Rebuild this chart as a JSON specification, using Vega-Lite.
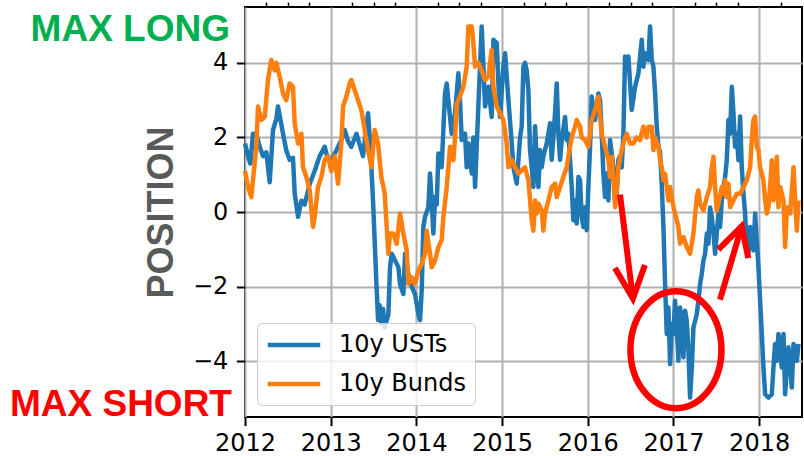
{
"$schema": "https://vega.github.io/schema/vega-lite/v6.json",
"width": 557,
"height": 410,
"autosize": {"type": "none"},
"padding": {"left": 245, "top": 7, "right": 2, "bottom": 39},
"background": "white",
"config": {
  "font": "DejaVu Sans",
  "view": {"stroke": "#000", "strokeWidth": 2},
  "axis": {"labelFont": "DejaVu Sans", "labelFontSize": 24, "labelColor": "#000", "tickColor": "#000", "tickWidth": 2, "domain": false, "gridColor": "#b0b0b0", "gridWidth": 2, "gridOpacity": 1}
},
"layer": [
{
  "data": {"values": [
{"s":"10y USTs","t":2012.000,"v":1.84},{"s":"10y USTs","t":2012.035,"v":1.5},{"s":"10y USTs","t":2012.062,"v":1.3},{"s":"10y USTs","t":2012.093,"v":2.1},{"s":"10y USTs","t":2012.132,"v":2.1},{"s":"10y USTs","t":2012.171,"v":1.75},{"s":"10y USTs","t":2012.210,"v":1.5},{"s":"10y USTs","t":2012.249,"v":1.6},{"s":"10y USTs","t":2012.288,"v":0.8},{"s":"10y USTs","t":2012.327,"v":2.2},{"s":"10y USTs","t":2012.366,"v":2.5},{"s":"10y USTs","t":2012.385,"v":2.83},{"s":"10y USTs","t":2012.412,"v":2.5},{"s":"10y USTs","t":2012.444,"v":2.1},{"s":"10y USTs","t":2012.482,"v":1.65},{"s":"10y USTs","t":2012.521,"v":1.4},{"s":"10y USTs","t":2012.560,"v":1.45},{"s":"10y USTs","t":2012.580,"v":0.5},{"s":"10y USTs","t":2012.619,"v":-0.13},{"s":"10y USTs","t":2012.658,"v":0.3},{"s":"10y USTs","t":2012.696,"v":0.2},{"s":"10y USTs","t":2012.755,"v":0.75},{"s":"10y USTs","t":2012.813,"v":1.1},{"s":"10y USTs","t":2012.872,"v":1.5},{"s":"10y USTs","t":2012.930,"v":1.75},{"s":"10y USTs","t":2012.969,"v":1.4},{"s":"10y USTs","t":2013.008,"v":1.4},{"s":"10y USTs","t":2013.066,"v":1.65},{"s":"10y USTs","t":2013.124,"v":1.93},{"s":"10y USTs","t":2013.163,"v":2.2},{"s":"10y USTs","t":2013.202,"v":1.9},{"s":"10y USTs","t":2013.241,"v":1.75},{"s":"10y USTs","t":2013.300,"v":2.1},{"s":"10y USTs","t":2013.339,"v":1.8},{"s":"10y USTs","t":2013.377,"v":1.5},{"s":"10y USTs","t":2013.436,"v":2.65},{"s":"10y USTs","t":2013.455,"v":2.0},{"s":"10y USTs","t":2013.475,"v":1.2},{"s":"10y USTs","t":2013.494,"v":0.3},{"s":"10y USTs","t":2013.514,"v":-0.8},{"s":"10y USTs","t":2013.533,"v":-1.9},{"s":"10y USTs","t":2013.553,"v":-2.9},{"s":"10y USTs","t":2013.572,"v":-2.5},{"s":"10y USTs","t":2013.591,"v":-3.0},{"s":"10y USTs","t":2013.611,"v":-2.6},{"s":"10y USTs","t":2013.630,"v":-3.1},{"s":"10y USTs","t":2013.654,"v":-2.9},{"s":"10y USTs","t":2013.673,"v":-2.74},{"s":"10y USTs","t":2013.692,"v":-1.5},{"s":"10y USTs","t":2013.712,"v":-1.12},{"s":"10y USTs","t":2013.751,"v":-1.3},{"s":"10y USTs","t":2013.790,"v":-1.48},{"s":"10y USTs","t":2013.809,"v":-1.93},{"s":"10y USTs","t":2013.848,"v":-2.2},{"s":"10y USTs","t":2013.868,"v":-1.12},{"s":"10y USTs","t":2013.906,"v":-1.66},{"s":"10y USTs","t":2013.945,"v":-2.0},{"s":"10y USTs","t":2013.984,"v":-2.2},{"s":"10y USTs","t":2014.023,"v":-2.74},{"s":"10y USTs","t":2014.043,"v":-2.9},{"s":"10y USTs","t":2014.062,"v":-2.1},{"s":"10y USTs","t":2014.081,"v":-0.4},{"s":"10y USTs","t":2014.101,"v":-0.13},{"s":"10y USTs","t":2014.140,"v":0.13},{"s":"10y USTs","t":2014.159,"v":1.03},{"s":"10y USTs","t":2014.179,"v":0.3},{"s":"10y USTs","t":2014.198,"v":-0.58},{"s":"10y USTs","t":2014.218,"v":0.4},{"s":"10y USTs","t":2014.237,"v":0.2},{"s":"10y USTs","t":2014.257,"v":1.57},{"s":"10y USTs","t":2014.295,"v":1.2},{"s":"10y USTs","t":2014.334,"v":3.18},{"s":"10y USTs","t":2014.354,"v":3.45},{"s":"10y USTs","t":2014.373,"v":3.0},{"s":"10y USTs","t":2014.393,"v":2.55},{"s":"10y USTs","t":2014.412,"v":2.1},{"s":"10y USTs","t":2014.451,"v":2.65},{"s":"10y USTs","t":2014.490,"v":3.72},{"s":"10y USTs","t":2014.509,"v":3.0},{"s":"10y USTs","t":2014.529,"v":1.93},{"s":"10y USTs","t":2014.568,"v":2.1},{"s":"10y USTs","t":2014.587,"v":1.2},{"s":"10y USTs","t":2014.607,"v":1.84},{"s":"10y USTs","t":2014.646,"v":1.03},{"s":"10y USTs","t":2014.665,"v":2.0},{"s":"10y USTs","t":2014.685,"v":0.67},{"s":"10y USTs","t":2014.723,"v":2.83},{"s":"10y USTs","t":2014.762,"v":4.98},{"s":"10y USTs","t":2014.782,"v":3.9},{"s":"10y USTs","t":2014.801,"v":2.83},{"s":"10y USTs","t":2014.840,"v":3.36},{"s":"10y USTs","t":2014.879,"v":2.55},{"s":"10y USTs","t":2014.899,"v":4.62},{"s":"10y USTs","t":2014.938,"v":4.53},{"s":"10y USTs","t":2014.957,"v":3.45},{"s":"10y USTs","t":2014.976,"v":2.55},{"s":"10y USTs","t":2015.015,"v":3.9},{"s":"10y USTs","t":2015.035,"v":4.26},{"s":"10y USTs","t":2015.074,"v":3.0},{"s":"10y USTs","t":2015.113,"v":1.84},{"s":"10y USTs","t":2015.132,"v":1.2},{"s":"10y USTs","t":2015.171,"v":0.76},{"s":"10y USTs","t":2015.210,"v":2.0},{"s":"10y USTs","t":2015.229,"v":2.3},{"s":"10y USTs","t":2015.249,"v":3.9},{"s":"10y USTs","t":2015.268,"v":4.0},{"s":"10y USTs","t":2015.287,"v":3.8},{"s":"10y USTs","t":2015.307,"v":3.27},{"s":"10y USTs","t":2015.326,"v":1.66},{"s":"10y USTs","t":2015.346,"v":1.2},{"s":"10y USTs","t":2015.365,"v":0.67},{"s":"10y USTs","t":2015.385,"v":2.3},{"s":"10y USTs","t":2015.404,"v":1.4},{"s":"10y USTs","t":2015.424,"v":0.67},{"s":"10y USTs","t":2015.443,"v":1.66},{"s":"10y USTs","t":2015.463,"v":1.2},{"s":"10y USTs","t":2015.482,"v":1.5},{"s":"10y USTs","t":2015.521,"v":1.84},{"s":"10y USTs","t":2015.560,"v":2.38},{"s":"10y USTs","t":2015.579,"v":1.4},{"s":"10y USTs","t":2015.618,"v":2.65},{"s":"10y USTs","t":2015.638,"v":3.45},{"s":"10y USTs","t":2015.657,"v":2.1},{"s":"10y USTs","t":2015.677,"v":1.4},{"s":"10y USTs","t":2015.696,"v":1.93},{"s":"10y USTs","t":2015.735,"v":2.55},{"s":"10y USTs","t":2015.754,"v":1.93},{"s":"10y USTs","t":2015.774,"v":2.1},{"s":"10y USTs","t":2015.813,"v":0.67},{"s":"10y USTs","t":2015.832,"v":-0.22},{"s":"10y USTs","t":2015.852,"v":0.31},{"s":"10y USTs","t":2015.871,"v":-0.31},{"s":"10y USTs","t":2015.891,"v":0.94},{"s":"10y USTs","t":2015.910,"v":0.85},{"s":"10y USTs","t":2015.929,"v":-0.13},{"s":"10y USTs","t":2015.949,"v":-0.4},{"s":"10y USTs","t":2015.968,"v":0.13},{"s":"10y USTs","t":2015.988,"v":-0.49},{"s":"10y USTs","t":2016.007,"v":0.67},{"s":"10y USTs","t":2016.027,"v":1.75},{"s":"10y USTs","t":2016.046,"v":3.1},{"s":"10y USTs","t":2016.066,"v":2.74},{"s":"10y USTs","t":2016.085,"v":2.47},{"s":"10y USTs","t":2016.124,"v":3.18},{"s":"10y USTs","t":2016.143,"v":3.0},{"s":"10y USTs","t":2016.163,"v":2.1},{"s":"10y USTs","t":2016.182,"v":1.03},{"s":"10y USTs","t":2016.202,"v":0.4},{"s":"10y USTs","t":2016.221,"v":1.03},{"s":"10y USTs","t":2016.241,"v":0.31},{"s":"10y USTs","t":2016.260,"v":1.93},{"s":"10y USTs","t":2016.280,"v":1.57},{"s":"10y USTs","t":2016.299,"v":1.2},{"s":"10y USTs","t":2016.319,"v":0.31},{"s":"10y USTs","t":2016.338,"v":0.49},{"s":"10y USTs","t":2016.357,"v":1.4},{"s":"10y USTs","t":2016.377,"v":1.5},{"s":"10y USTs","t":2016.396,"v":1.2},{"s":"10y USTs","t":2016.416,"v":2.1},{"s":"10y USTs","t":2016.435,"v":4.17},{"s":"10y USTs","t":2016.455,"v":3.9},{"s":"10y USTs","t":2016.474,"v":4.17},{"s":"10y USTs","t":2016.494,"v":3.45},{"s":"10y USTs","t":2016.513,"v":2.74},{"s":"10y USTs","t":2016.552,"v":3.36},{"s":"10y USTs","t":2016.591,"v":3.72},{"s":"10y USTs","t":2016.630,"v":4.62},{"s":"10y USTs","t":2016.649,"v":3.9},{"s":"10y USTs","t":2016.669,"v":4.26},{"s":"10y USTs","t":2016.708,"v":4.08},{"s":"10y USTs","t":2016.727,"v":4.98},{"s":"10y USTs","t":2016.747,"v":4.08},{"s":"10y USTs","t":2016.766,"v":3.9},{"s":"10y USTs","t":2016.786,"v":3.18},{"s":"10y USTs","t":2016.805,"v":2.3},{"s":"10y USTs","t":2016.825,"v":1.75},{"s":"10y USTs","t":2016.844,"v":1.6},{"s":"10y USTs","t":2016.863,"v":0.76},{"s":"10y USTs","t":2016.883,"v":-0.4},{"s":"10y USTs","t":2016.902,"v":-1.93},{"s":"10y USTs","t":2016.922,"v":-3.27},{"s":"10y USTs","t":2016.941,"v":-2.56},{"s":"10y USTs","t":2016.961,"v":-4.08},{"s":"10y USTs","t":2016.980,"v":-3.0},{"s":"10y USTs","t":2017.000,"v":-3.27},{"s":"10y USTs","t":2017.019,"v":-2.38},{"s":"10y USTs","t":2017.039,"v":-3.1},{"s":"10y USTs","t":2017.058,"v":-3.99},{"s":"10y USTs","t":2017.077,"v":-2.56},{"s":"10y USTs","t":2017.097,"v":-2.92},{"s":"10y USTs","t":2017.116,"v":-3.9},{"s":"10y USTs","t":2017.136,"v":-2.65},{"s":"10y USTs","t":2017.155,"v":-2.92},{"s":"10y USTs","t":2017.175,"v":-3.72},{"s":"10y USTs","t":2017.194,"v":-4.98},{"s":"10y USTs","t":2017.214,"v":-4.17},{"s":"10y USTs","t":2017.233,"v":-3.1},{"s":"10y USTs","t":2017.253,"v":-2.92},{"s":"10y USTs","t":2017.272,"v":-2.74},{"s":"10y USTs","t":2017.291,"v":-2.38},{"s":"10y USTs","t":2017.311,"v":-1.93},{"s":"10y USTs","t":2017.330,"v":-1.66},{"s":"10y USTs","t":2017.350,"v":-1.3},{"s":"10y USTs","t":2017.369,"v":-1.12},{"s":"10y USTs","t":2017.389,"v":-0.58},{"s":"10y USTs","t":2017.408,"v":-0.85},{"s":"10y USTs","t":2017.428,"v":0.12},{"s":"10y USTs","t":2017.447,"v":-0.13},{"s":"10y USTs","t":2017.467,"v":-0.58},{"s":"10y USTs","t":2017.486,"v":-1.12},{"s":"10y USTs","t":2017.505,"v":-0.58},{"s":"10y USTs","t":2017.525,"v":-0.04},{"s":"10y USTs","t":2017.544,"v":-0.4},{"s":"10y USTs","t":2017.564,"v":0.31},{"s":"10y USTs","t":2017.583,"v":0.67},{"s":"10y USTs","t":2017.603,"v":0.94},{"s":"10y USTs","t":2017.622,"v":1.39},{"s":"10y USTs","t":2017.642,"v":2.47},{"s":"10y USTs","t":2017.661,"v":2.1},{"s":"10y USTs","t":2017.681,"v":3.36},{"s":"10y USTs","t":2017.700,"v":2.65},{"s":"10y USTs","t":2017.719,"v":1.75},{"s":"10y USTs","t":2017.739,"v":2.1},{"s":"10y USTs","t":2017.758,"v":1.39},{"s":"10y USTs","t":2017.778,"v":2.56},{"s":"10y USTs","t":2017.797,"v":1.2},{"s":"10y USTs","t":2017.817,"v":0.49},{"s":"10y USTs","t":2017.836,"v":-0.04},{"s":"10y USTs","t":2017.856,"v":-0.94},{"s":"10y USTs","t":2017.875,"v":-1.12},{"s":"10y USTs","t":2017.895,"v":-0.4},{"s":"10y USTs","t":2017.914,"v":-0.76},{"s":"10y USTs","t":2017.933,"v":-1.03},{"s":"10y USTs","t":2017.953,"v":-0.04},{"s":"10y USTs","t":2017.972,"v":-0.76},{"s":"10y USTs","t":2017.992,"v":-1.48},{"s":"10y USTs","t":2018.011,"v":-2.38},{"s":"10y USTs","t":2018.031,"v":-3.27},{"s":"10y USTs","t":2018.050,"v":-4.17},{"s":"10y USTs","t":2018.070,"v":-4.89},{"s":"10y USTs","t":2018.109,"v":-4.98},{"s":"10y USTs","t":2018.148,"v":-4.89},{"s":"10y USTs","t":2018.167,"v":-4.17},{"s":"10y USTs","t":2018.186,"v":-3.54},{"s":"10y USTs","t":2018.206,"v":-3.99},{"s":"10y USTs","t":2018.225,"v":-3.27},{"s":"10y USTs","t":2018.245,"v":-3.72},{"s":"10y USTs","t":2018.264,"v":-4.17},{"s":"10y USTs","t":2018.284,"v":-3.27},{"s":"10y USTs","t":2018.303,"v":-4.89},{"s":"10y USTs","t":2018.323,"v":-4.17},{"s":"10y USTs","t":2018.342,"v":-3.63},{"s":"10y USTs","t":2018.362,"v":-4.17},{"s":"10y USTs","t":2018.381,"v":-4.71},{"s":"10y USTs","t":2018.401,"v":-3.54},{"s":"10y USTs","t":2018.440,"v":-3.99},{"s":"10y USTs","t":2018.459,"v":-3.54},
{"s":"10y Bunds","t":2012.000,"v":1.1},{"s":"10y Bunds","t":2012.035,"v":0.67},{"s":"10y Bunds","t":2012.074,"v":0.4},{"s":"10y Bunds","t":2012.093,"v":0.85},{"s":"10y Bunds","t":2012.132,"v":1.75},{"s":"10y Bunds","t":2012.152,"v":2.83},{"s":"10y Bunds","t":2012.191,"v":2.47},{"s":"10y Bunds","t":2012.230,"v":2.55},{"s":"10y Bunds","t":2012.268,"v":3.54},{"s":"10y Bunds","t":2012.307,"v":4.08},{"s":"10y Bunds","t":2012.346,"v":3.8},{"s":"10y Bunds","t":2012.366,"v":4.0},{"s":"10y Bunds","t":2012.405,"v":3.63},{"s":"10y Bunds","t":2012.444,"v":3.18},{"s":"10y Bunds","t":2012.482,"v":3.0},{"s":"10y Bunds","t":2012.521,"v":3.45},{"s":"10y Bunds","t":2012.560,"v":3.36},{"s":"10y Bunds","t":2012.580,"v":2.38},{"s":"10y Bunds","t":2012.619,"v":1.84},{"s":"10y Bunds","t":2012.658,"v":2.1},{"s":"10y Bunds","t":2012.677,"v":1.2},{"s":"10y Bunds","t":2012.716,"v":0.94},{"s":"10y Bunds","t":2012.755,"v":0.58},{"s":"10y Bunds","t":2012.794,"v":-0.4},{"s":"10y Bunds","t":2012.813,"v":-0.13},{"s":"10y Bunds","t":2012.852,"v":0.67},{"s":"10y Bunds","t":2012.891,"v":0.94},{"s":"10y Bunds","t":2012.930,"v":1.4},{"s":"10y Bunds","t":2012.969,"v":1.5},{"s":"10y Bunds","t":2013.008,"v":1.1},{"s":"10y Bunds","t":2013.047,"v":1.5},{"s":"10y Bunds","t":2013.086,"v":0.76},{"s":"10y Bunds","t":2013.124,"v":1.84},{"s":"10y Bunds","t":2013.144,"v":2.83},{"s":"10y Bunds","t":2013.183,"v":3.1},{"s":"10y Bunds","t":2013.222,"v":3.45},{"s":"10y Bunds","t":2013.241,"v":3.54},{"s":"10y Bunds","t":2013.280,"v":3.27},{"s":"10y Bunds","t":2013.319,"v":3.0},{"s":"10y Bunds","t":2013.358,"v":2.74},{"s":"10y Bunds","t":2013.397,"v":2.2},{"s":"10y Bunds","t":2013.436,"v":1.66},{"s":"10y Bunds","t":2013.475,"v":1.2},{"s":"10y Bunds","t":2013.514,"v":2.2},{"s":"10y Bunds","t":2013.553,"v":1.84},{"s":"10y Bunds","t":2013.591,"v":0.94},{"s":"10y Bunds","t":2013.630,"v":0.5},{"s":"10y Bunds","t":2013.673,"v":-1.12},{"s":"10y Bunds","t":2013.692,"v":-0.58},{"s":"10y Bunds","t":2013.731,"v":-0.58},{"s":"10y Bunds","t":2013.770,"v":-0.85},{"s":"10y Bunds","t":2013.809,"v":-0.04},{"s":"10y Bunds","t":2013.848,"v":-0.58},{"s":"10y Bunds","t":2013.887,"v":-1.03},{"s":"10y Bunds","t":2013.906,"v":-1.93},{"s":"10y Bunds","t":2013.945,"v":-1.75},{"s":"10y Bunds","t":2013.984,"v":-1.93},{"s":"10y Bunds","t":2014.023,"v":-1.57},{"s":"10y Bunds","t":2014.062,"v":-1.39},{"s":"10y Bunds","t":2014.101,"v":-1.12},{"s":"10y Bunds","t":2014.120,"v":-0.5},{"s":"10y Bunds","t":2014.159,"v":-1.12},{"s":"10y Bunds","t":2014.179,"v":-1.48},{"s":"10y Bunds","t":2014.218,"v":-1.3},{"s":"10y Bunds","t":2014.257,"v":-0.94},{"s":"10y Bunds","t":2014.295,"v":-0.76},{"s":"10y Bunds","t":2014.315,"v":-0.13},{"s":"10y Bunds","t":2014.354,"v":0.67},{"s":"10y Bunds","t":2014.393,"v":1.75},{"s":"10y Bunds","t":2014.432,"v":1.39},{"s":"10y Bunds","t":2014.451,"v":2.0},{"s":"10y Bunds","t":2014.471,"v":2.9},{"s":"10y Bunds","t":2014.509,"v":3.1},{"s":"10y Bunds","t":2014.548,"v":3.36},{"s":"10y Bunds","t":2014.587,"v":3.9},{"s":"10y Bunds","t":2014.607,"v":4.98},{"s":"10y Bunds","t":2014.646,"v":4.98},{"s":"10y Bunds","t":2014.665,"v":4.53},{"s":"10y Bunds","t":2014.685,"v":3.9},{"s":"10y Bunds","t":2014.723,"v":4.0},{"s":"10y Bunds","t":2014.762,"v":3.8},{"s":"10y Bunds","t":2014.801,"v":3.54},{"s":"10y Bunds","t":2014.840,"v":3.63},{"s":"10y Bunds","t":2014.879,"v":4.35},{"s":"10y Bunds","t":2014.899,"v":3.36},{"s":"10y Bunds","t":2014.938,"v":2.83},{"s":"10y Bunds","t":2014.976,"v":2.65},{"s":"10y Bunds","t":2015.015,"v":2.47},{"s":"10y Bunds","t":2015.054,"v":1.84},{"s":"10y Bunds","t":2015.074,"v":1.2},{"s":"10y Bunds","t":2015.113,"v":1.4},{"s":"10y Bunds","t":2015.152,"v":1.2},{"s":"10y Bunds","t":2015.190,"v":1.03},{"s":"10y Bunds","t":2015.229,"v":1.12},{"s":"10y Bunds","t":2015.268,"v":1.2},{"s":"10y Bunds","t":2015.307,"v":0.85},{"s":"10y Bunds","t":2015.346,"v":-0.22},{"s":"10y Bunds","t":2015.365,"v":-0.5},{"s":"10y Bunds","t":2015.385,"v":0.31},{"s":"10y Bunds","t":2015.404,"v":-0.04},{"s":"10y Bunds","t":2015.424,"v":0.22},{"s":"10y Bunds","t":2015.463,"v":0.04},{"s":"10y Bunds","t":2015.482,"v":-0.5},{"s":"10y Bunds","t":2015.501,"v":-0.04},{"s":"10y Bunds","t":2015.540,"v":0.31},{"s":"10y Bunds","t":2015.579,"v":0.67},{"s":"10y Bunds","t":2015.618,"v":0.76},{"s":"10y Bunds","t":2015.638,"v":0.4},{"s":"10y Bunds","t":2015.677,"v":0.67},{"s":"10y Bunds","t":2015.715,"v":0.94},{"s":"10y Bunds","t":2015.754,"v":1.2},{"s":"10y Bunds","t":2015.793,"v":1.75},{"s":"10y Bunds","t":2015.813,"v":2.0},{"s":"10y Bunds","t":2015.852,"v":2.29},{"s":"10y Bunds","t":2015.871,"v":2.47},{"s":"10y Bunds","t":2015.910,"v":2.29},{"s":"10y Bunds","t":2015.929,"v":2.0},{"s":"10y Bunds","t":2015.968,"v":1.93},{"s":"10y Bunds","t":2016.007,"v":1.75},{"s":"10y Bunds","t":2016.046,"v":2.47},{"s":"10y Bunds","t":2016.085,"v":2.74},{"s":"10y Bunds","t":2016.124,"v":3.1},{"s":"10y Bunds","t":2016.143,"v":2.56},{"s":"10y Bunds","t":2016.163,"v":2.1},{"s":"10y Bunds","t":2016.202,"v":1.75},{"s":"10y Bunds","t":2016.241,"v":1.4},{"s":"10y Bunds","t":2016.260,"v":0.94},{"s":"10y Bunds","t":2016.280,"v":1.48},{"s":"10y Bunds","t":2016.299,"v":0.85},{"s":"10y Bunds","t":2016.319,"v":0.13},{"s":"10y Bunds","t":2016.338,"v":0.58},{"s":"10y Bunds","t":2016.357,"v":1.2},{"s":"10y Bunds","t":2016.396,"v":1.66},{"s":"10y Bunds","t":2016.435,"v":2.0},{"s":"10y Bunds","t":2016.455,"v":2.1},{"s":"10y Bunds","t":2016.494,"v":1.84},{"s":"10y Bunds","t":2016.533,"v":1.84},{"s":"10y Bunds","t":2016.571,"v":2.0},{"s":"10y Bunds","t":2016.610,"v":1.93},{"s":"10y Bunds","t":2016.649,"v":2.29},{"s":"10y Bunds","t":2016.688,"v":2.0},{"s":"10y Bunds","t":2016.708,"v":2.29},{"s":"10y Bunds","t":2016.747,"v":2.29},{"s":"10y Bunds","t":2016.766,"v":1.66},{"s":"10y Bunds","t":2016.786,"v":2.0},{"s":"10y Bunds","t":2016.825,"v":1.75},{"s":"10y Bunds","t":2016.844,"v":1.39},{"s":"10y Bunds","t":2016.863,"v":1.2},{"s":"10y Bunds","t":2016.883,"v":0.85},{"s":"10y Bunds","t":2016.902,"v":1.03},{"s":"10y Bunds","t":2016.922,"v":0.67},{"s":"10y Bunds","t":2016.941,"v":0.31},{"s":"10y Bunds","t":2016.961,"v":0.67},{"s":"10y Bunds","t":2017.000,"v":0.13},{"s":"10y Bunds","t":2017.019,"v":-0.04},{"s":"10y Bunds","t":2017.058,"v":-0.4},{"s":"10y Bunds","t":2017.077,"v":-0.85},{"s":"10y Bunds","t":2017.116,"v":-0.67},{"s":"10y Bunds","t":2017.155,"v":-0.94},{"s":"10y Bunds","t":2017.194,"v":-1.12},{"s":"10y Bunds","t":2017.233,"v":-0.58},{"s":"10y Bunds","t":2017.272,"v":0.4},{"s":"10y Bunds","t":2017.291,"v":0.58},{"s":"10y Bunds","t":2017.311,"v":0.22},{"s":"10y Bunds","t":2017.350,"v":0.04},{"s":"10y Bunds","t":2017.389,"v":0.4},{"s":"10y Bunds","t":2017.428,"v":0.67},{"s":"10y Bunds","t":2017.447,"v":1.2},{"s":"10y Bunds","t":2017.467,"v":1.48},{"s":"10y Bunds","t":2017.486,"v":0.67},{"s":"10y Bunds","t":2017.505,"v":0.04},{"s":"10y Bunds","t":2017.525,"v":0.22},{"s":"10y Bunds","t":2017.564,"v":0.67},{"s":"10y Bunds","t":2017.583,"v":0.49},{"s":"10y Bunds","t":2017.603,"v":0.85},{"s":"10y Bunds","t":2017.622,"v":0.4},{"s":"10y Bunds","t":2017.642,"v":0.76},{"s":"10y Bunds","t":2017.661,"v":0.13},{"s":"10y Bunds","t":2017.700,"v":0.31},{"s":"10y Bunds","t":2017.739,"v":0.49},{"s":"10y Bunds","t":2017.778,"v":0.49},{"s":"10y Bunds","t":2017.817,"v":0.67},{"s":"10y Bunds","t":2017.856,"v":0.85},{"s":"10y Bunds","t":2017.895,"v":1.2},{"s":"10y Bunds","t":2017.914,"v":1.93},{"s":"10y Bunds","t":2017.933,"v":2.47},{"s":"10y Bunds","t":2017.953,"v":2.56},{"s":"10y Bunds","t":2017.972,"v":1.75},{"s":"10y Bunds","t":2017.992,"v":1.66},{"s":"10y Bunds","t":2018.011,"v":1.2},{"s":"10y Bunds","t":2018.050,"v":0.85},{"s":"10y Bunds","t":2018.070,"v":0.31},{"s":"10y Bunds","t":2018.089,"v":-0.04},{"s":"10y Bunds","t":2018.109,"v":0.13},{"s":"10y Bunds","t":2018.128,"v":0.67},{"s":"10y Bunds","t":2018.148,"v":1.39},{"s":"10y Bunds","t":2018.167,"v":0.31},{"s":"10y Bunds","t":2018.186,"v":0.67},{"s":"10y Bunds","t":2018.206,"v":1.48},{"s":"10y Bunds","t":2018.225,"v":0.13},{"s":"10y Bunds","t":2018.245,"v":0.67},{"s":"10y Bunds","t":2018.284,"v":0.31},{"s":"10y Bunds","t":2018.303,"v":-0.94},{"s":"10y Bunds","t":2018.323,"v":0.13},{"s":"10y Bunds","t":2018.362,"v":-0.04},{"s":"10y Bunds","t":2018.401,"v":1.2},{"s":"10y Bunds","t":2018.420,"v":0.31},{"s":"10y Bunds","t":2018.440,"v":-0.5},{"s":"10y Bunds","t":2018.459,"v":0.31}
  ]},
  "mark": {"type": "line", "strokeWidth": 4.5, "strokeJoin": "round"},
  "encoding": {
    "x": {"field": "t", "type": "quantitative",
      "scale": {"domain": [2012, 2018.5], "nice": false, "zero": false},
      "axis": {"values": [2012, 2013, 2014, 2015, 2016, 2017, 2018], "format": "d", "tickSize": 8.6, "labelPadding": 6, "labelFlush": false, "labelOverlap": false, "grid": true, "title": null}},
    "y": {"field": "v", "type": "quantitative",
      "scale": {"domain": [-5.5, 5.5], "nice": false, "zero": false},
      "axis": {"values": [-4, -2, 0, 2, 4], "tickSize": 8.6, "labelPadding": 8.6, "grid": true, "title": "POSITION", "titleFont": "Liberation Sans", "titleFontWeight": "bold", "titleFontSize": 36, "titleColor": "#595959", "titlePadding": 12}},
    "color": {"field": "s", "type": "nominal", "sort": ["10y USTs", "10y Bunds"],
      "scale": {"domain": ["10y USTs", "10y Bunds"], "range": ["#1f77b4", "#ff7f0e"]},
      "legend": {"title": null, "orient": "bottom-left", "offset": 12, "symbolType": "M -2.5 0 L 2.5 0", "symbolSize": 441, "symbolStrokeWidth": 4.5, "symbolOffset": 15, "labelFont": "DejaVu Sans", "labelFontSize": 24, "labelColor": "#000", "labelOffset": 32, "padding": 9, "rowPadding": 14, "fillColor": "rgba(255,255,255,0.8)", "strokeColor": "#cccccc", "cornerRadius": 5}}
  }
},
{
  "data": {"values": [
    {"seg": "a1", "k": 1, "t": 2016.376, "v": 0.464},
    {"seg": "a1", "k": 2, "t": 2016.527, "v": -2.32},
    {"seg": "a1h", "k": 1, "t": 2016.317, "v": -1.50},
    {"seg": "a1h", "k": 2, "t": 2016.527, "v": -2.32},
    {"seg": "a1h", "k": 3, "t": 2016.667, "v": -1.42},
    {"seg": "a2", "k": 1, "t": 2017.543, "v": -2.353},
    {"seg": "a2", "k": 2, "t": 2017.796, "v": -0.386},
    {"seg": "a2h", "k": 1, "t": 2017.523, "v": -1.012},
    {"seg": "a2h", "k": 2, "t": 2017.796, "v": -0.386},
    {"seg": "a2h", "k": 3, "t": 2017.873, "v": -1.236}
  ]},
  "mark": {"type": "line", "color": "#ff0000", "strokeWidth": 6, "strokeCap": "butt", "strokeJoin": "miter"},
  "encoding": {
    "x": {"field": "t", "type": "quantitative",
      "axis": {"values": [2012.25, 2012.5, 2012.75, 2013.25, 2013.5, 2013.75, 2014.25, 2014.5, 2014.75, 2015.25, 2015.5, 2015.75, 2016.25, 2016.5, 2016.75, 2017.25, 2017.5, 2017.75, 2018.25], "labels": false, "grid": false, "tickSize": 4.9, "tickWidth": 1.5, "title": null}},
    "y": {"field": "v", "type": "quantitative"},
    "detail": {"field": "seg"},
    "order": {"field": "k"}
  }
},
{
  "data": {"values": [{"t": 2017.029, "v": -3.695}]},
  "mark": {"type": "point", "shape": "M -0.778 0 A 0.778 1 0 1 1 0.778 0 A 0.778 1 0 1 1 -0.778 0 Z", "size": 13689, "filled": false, "stroke": "#ff0000", "strokeWidth": 6.5, "opacity": 1},
  "encoding": {
    "x": {"field": "t", "type": "quantitative", "axis": null},
    "y": {"field": "v", "type": "quantitative"}
  }
},
{
  "data": {"values": [{"t": 2011.825, "v": 4.577, "label": "MAX LONG"}]},
  "mark": {"type": "text", "align": "right", "baseline": "alphabetic", "font": "Liberation Sans", "fontWeight": "bold", "fontSize": 37, "color": "#00b050"},
  "encoding": {
    "x": {"field": "t", "type": "quantitative", "axis": null},
    "y": {"field": "v", "type": "quantitative"},
    "text": {"field": "label"}
  }
},
{
  "data": {"values": [{"t": 2011.848, "v": -5.484, "label": "MAX SHORT"}]},
  "mark": {"type": "text", "align": "right", "baseline": "alphabetic", "font": "Liberation Sans", "fontWeight": "bold", "fontSize": 37, "color": "#ff0000"},
  "encoding": {
    "x": {"field": "t", "type": "quantitative", "axis": null},
    "y": {"field": "v", "type": "quantitative"},
    "text": {"field": "label"}
  }
}
],
"resolve": {"axis": {"x": "independent"}}
}
